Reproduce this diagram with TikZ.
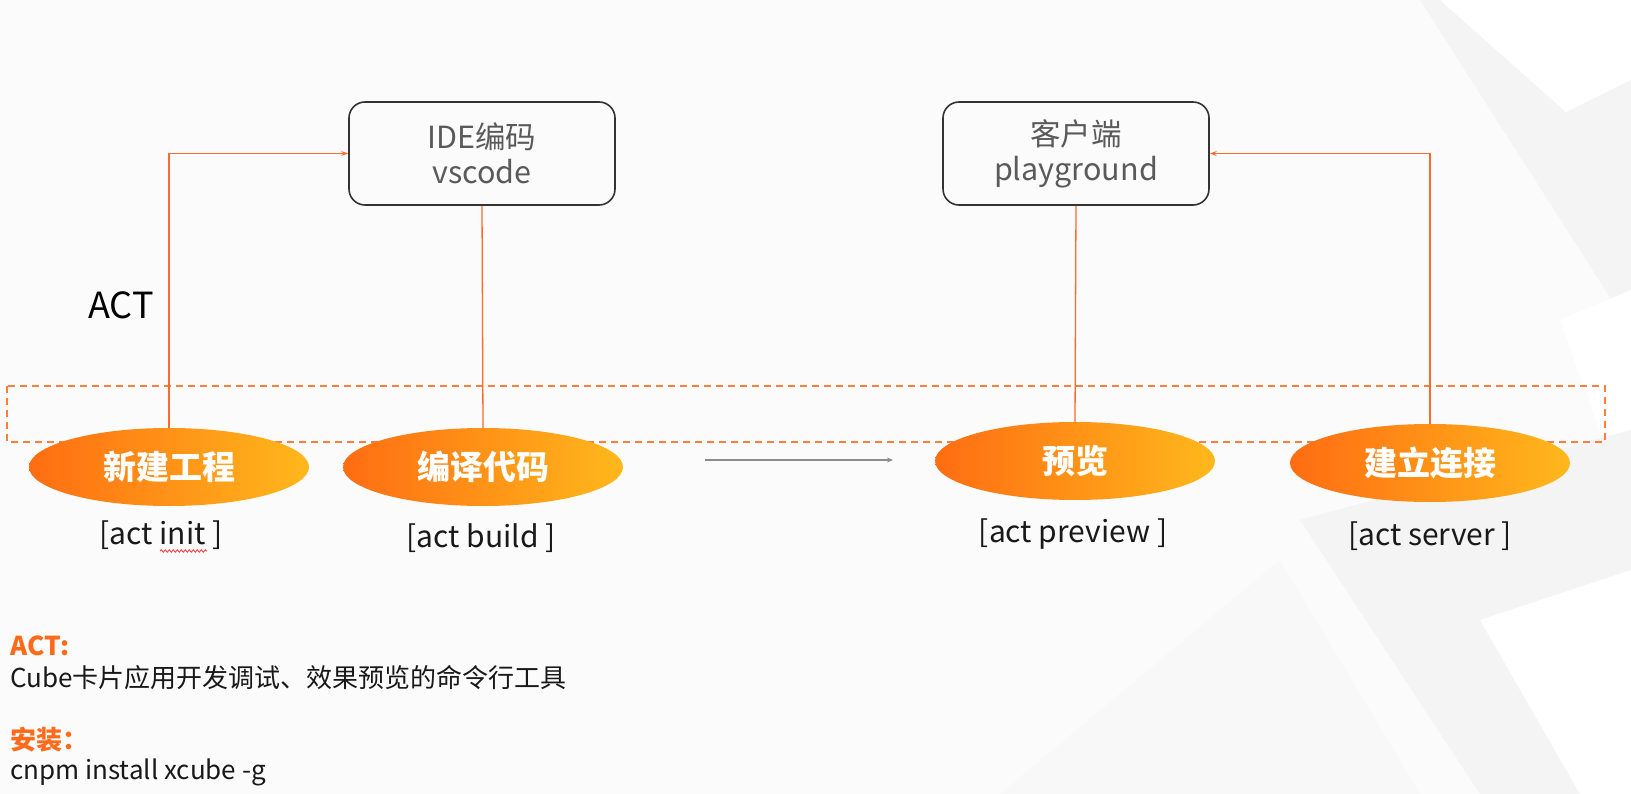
\documentclass[tikz,border=0pt]{standalone}
\usepackage{fontspec}
\setmainfont{Noto Sans CJK SC}
\usetikzlibrary{shapes.geometric,arrows.meta,decorations.pathmorphing}
\definecolor{lineor}{HTML}{FF6A2B}
\definecolor{dashor}{HTML}{FF7E3E}
\definecolor{ellL}{HTML}{FF6D12}
\definecolor{ellR}{HTML}{FFB81C}
\definecolor{boxtext}{HTML}{5A5A5A}
\definecolor{titleor}{HTML}{FF6A1A}
\definecolor{bgbase}{HTML}{FBFBFB}
\definecolor{bgdark}{HTML}{F4F4F4}
\definecolor{arrgray}{HTML}{8C8C8C}
\begin{document}
\begin{tikzpicture}[x=1pt,y=-1pt,
  toolbox/.style={draw=black!80, line width=1.6pt, rounded corners=16pt, minimum width=266pt, minimum height=103pt, align=center, text=boxtext, font=\fontsize{30.5}{35}\selectfont, inner sep=0pt},
  stepell/.style={ellipse, left color=ellL, right color=ellR, draw=none, minimum width=280pt, minimum height=78pt, text=white, font=\fontsize{33}{36}\selectfont\bfseries, inner sep=0pt},
  cmdlabel/.style={font=\fontsize{30}{34}\selectfont, text=black!90},
  link/.style={draw=lineor, line width=1.3pt},
  linkarrow/.style={link, -{Stealth[length=7pt,width=5pt]}},
  grayarrow/.style={draw=arrgray, line width=2pt, -{Stealth[length=6pt,width=5pt]}},
  dashbox/.style={draw=dashor, line width=1.8pt, dash pattern=on 7pt off 5pt},
  notetitle/.style={anchor=west, text=titleor, font=\fontsize{26}{30}\selectfont\bfseries, inner sep=0pt},
  notetext/.style={anchor=west, text=black!90, font=\fontsize{26}{30}\selectfont, inner sep=0pt}
]
\useasboundingbox (0,0) rectangle (1631,794);
% background
\fill[bgbase] (0,0) rectangle (1631,794);
\fill[bgdark] (1150,0) -- (1631,0) -- (1631,330) -- (1420,0) -- cycle;
\fill[white] (1440,0) -- (1631,0) -- (1631,170) -- cycle;
\fill[bgdark] (1530,130) -- (1631,80) -- (1631,330) -- cycle;
\fill[white] (1560,320) -- (1631,290) -- (1631,520) -- cycle;
\fill[bgdark] (1300,520) -- (1631,430) -- (1631,794) -- (1480,794) -- cycle;
\fill[white] (1480,620) -- (1631,570) -- (1631,794) -- (1580,794) -- cycle;
\fill[bgdark!60] (1000,794) -- (1280,560) -- (1420,794) -- cycle;

% dashed band
\draw[dashbox] (7,386) rectangle (1605,442);

% boxes
\node[toolbox] (ide) at (482,153.5) {IDE编码\\vscode};
\node[toolbox] (client) at (1076,153.5) {客户端\\playground};

% ellipses
\node[stepell] (init) at (169,467) {新建工程};
\node[stepell] (build) at (483,467) {编译代码};
\node[stepell] (preview) at (1075,461) {预览};
\node[stepell] (server) at (1430,463) {建立连接};

% labels
\node[cmdlabel] (linit) at (161,535) {[act init ]};
\node[cmdlabel] (lbuild) at (481,538) {[act build ]};
\node[cmdlabel] (lpreview) at (1073,534) {[act preview ]};
\node[cmdlabel] (lserver) at (1430,536) {[act server ]};
\draw[red!80, line width=0.8pt, decorate, decoration={snake, amplitude=1.2pt, segment length=4pt}] (160,551) -- (207,551);

\node[font=\fontsize{36}{40}\selectfont, text=black] (act) at (121,305) {ACT};

% connectors
\draw[linkarrow] (init.north) |- (ide.west);
\draw[link] (ide.south) -- (build.north);
\draw[link] (client.south) -- (preview.north);
\draw[linkarrow] (server.north) |- (client.east);

\coordinate (ga) at (705,460);
\coordinate (gb) at (893,460);
\draw[grayarrow] (ga) -- (gb);

% notes
\node[notetitle] (n1) at (10,646) {ACT:};
\node[notetext] (n2) at (10,678) {Cube卡片应用开发调试、效果预览的命令行工具};
\node[notetitle] (n3) at (10,740) {安装：};
\node[notetext] (n4) at (10,772) {cnpm install xcube -g};
\end{tikzpicture}
\end{document}
